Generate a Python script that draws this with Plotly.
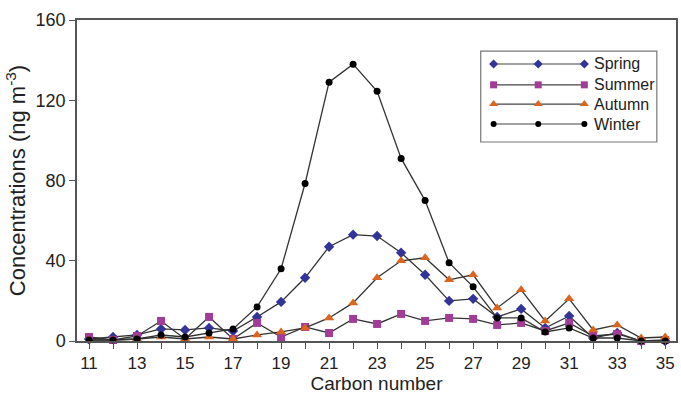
import plotly.graph_objects as go

carbon = list(range(11, 36))
spring = [1, 2, 3, 6, 5.5, 6.5, 5, 12, 19.5, 31.5, 47, 53, 52.3, 44, 33, 20, 21, 12, 16, 6.5, 12.5, 1.5, 4, 0, 0]
summer = [2, 0.5, 2.5, 10, 1, 12, 1, 9, 2, 7, 4, 11, 8.5, 13.5, 10, 11.5, 11, 8, 9, 5, 9, 2.5, 3.5, 0, 0.5]
autumn = [0.5, 0.5, 1, 2, 1, 2, 1, 3, 4.5, 6.5, 11.5, 19, 31.5, 40, 41.5, 30.5, 33, 16.5, 25.5, 10, 21, 5.5, 8, 1.5, 2]
winter = [0.5, 0.5, 1, 3, 2, 4, 6, 17, 36, 78.5, 129, 138, 124.5, 91, 70, 39, 27, 11.5, 11.5, 4.5, 6.5, 1.5, 1.5, 0, 0]

series_names = ["Spring", "Summer", "Autumn", "Winter"]
series_values = [spring, summer, autumn, winter]
colors = ["#33349a", "#a23d97", "#dc641d", "#000000"]
symbols = ["diamond", "square", "triangle-up", "circle"]
sizes = [8, 8, 9, 7]

x_ticks = list(range(11, 36, 2))
y_ticks = [0, 40, 80, 120, 160]

FONT = "Liberation Sans, Arial, sans-serif"
TXT = "#222222"
AX = "#555555"

fig = go.Figure()
for name, vals, c, s, sz in zip(series_names, series_values, colors, symbols, sizes):
    fig.add_trace(go.Scatter(
        x=carbon, y=vals, mode="lines+markers", name=name,
        line=dict(color="#333333", width=1.3),
        marker=dict(color=c, symbol=s, size=sz, line=dict(width=0)),
        showlegend=False, cliponaxis=False,
    ))

# custom legend (layout positions, in overlay axis units = paper fraction)
leg_x = [0.6955, 0.770, 0.847]
leg_rows = [0.863, 0.798, 0.738, 0.676]
for name, c, s, sz, ry in zip(series_names, colors, symbols, sizes, leg_rows):
    fig.add_trace(go.Scatter(
        x=leg_x, y=[ry] * 3, xaxis="x2", yaxis="y2", mode="lines+markers",
        line=dict(color="#444444", width=1.1),
        marker=dict(color=c, symbol=s, size=sz - 1, line=dict(width=0)),
        showlegend=False, hoverinfo="skip",
    ))
    fig.add_annotation(x=0.859, y=ry, xref="paper", yref="paper", text=name,
                       showarrow=False, xanchor="left", yanchor="middle",
                       font=dict(family=FONT, size=16, color=TXT))

fig.add_shape(type="rect", xref="paper", yref="paper",
              x0=0.674, x1=0.968, y0=0.62, y1=0.903,
              line=dict(color="#777777", width=1.2), fillcolor="rgba(0,0,0,0)")

fig.update_layout(
    width=681, height=395,
    margin=dict(l=77, r=3, t=20, b=54),
    paper_bgcolor="white", plot_bgcolor="white",
    font=dict(family=FONT, size=17, color=TXT),
    xaxis=dict(
        range=[10.5, 35.45], tickvals=x_ticks, ticktext=[str(v) for v in x_ticks],
        ticks="outside", ticklen=6, tickwidth=1.2, tickcolor=AX,
        minor=dict(dtick=1, tick0=11, ticks="outside", ticklen=6, tickwidth=1.2, tickcolor=AX),
        showline=True, linecolor=AX, linewidth=1.5, mirror=True,
        showgrid=False, zeroline=False,
        tickfont=dict(size=17, color=TXT),
        title=dict(text="Carbon number", font=dict(size=19, color=TXT), standoff=4),
    ),
    yaxis=dict(
        range=[0, 160], tickvals=y_ticks,
        ticks="outside", ticklen=6, tickwidth=1.2, tickcolor=AX,
        showline=True, linecolor=AX, linewidth=1.5, mirror=True,
        showgrid=False, zeroline=False,
        tickfont=dict(size=18, color=TXT),
        title=dict(text="Concentrations (ng m<sup>-3</sup>)", font=dict(size=22, color=TXT), standoff=4),
    ),
    xaxis2=dict(domain=[0, 1], range=[0, 1], overlaying="x", visible=False, fixedrange=True),
    yaxis2=dict(domain=[0, 1], range=[0, 1], overlaying="y", visible=False, fixedrange=True),
)

fig.write_html("out.html")
